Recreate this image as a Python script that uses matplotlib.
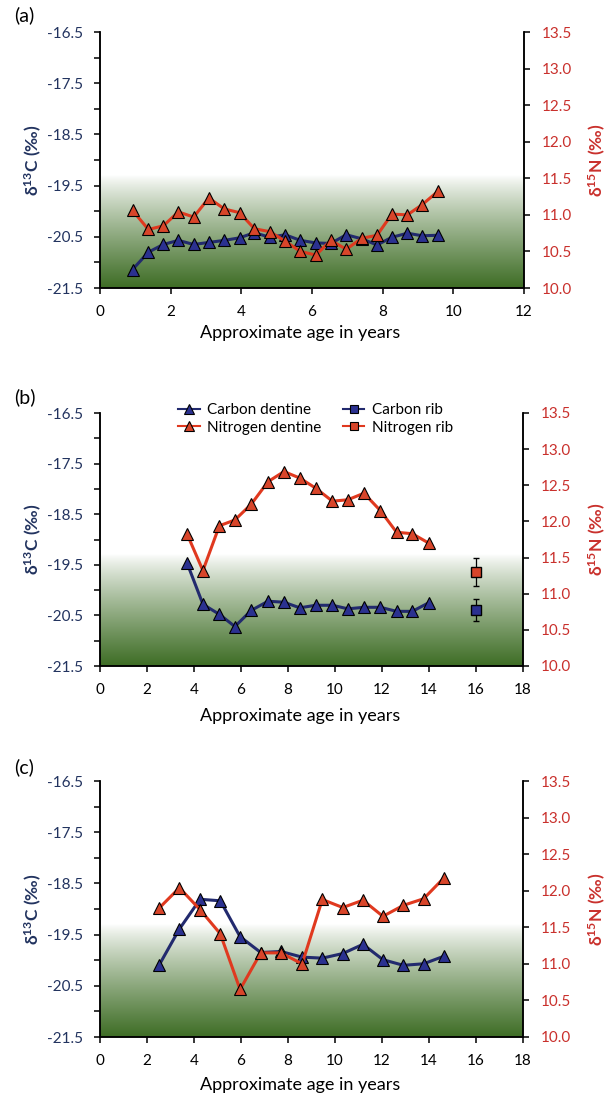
import numpy as np
import matplotlib
matplotlib.use("Agg")
import matplotlib.pyplot as plt
from matplotlib.lines import Line2D
from matplotlib.colors import to_rgb

plt.rcParams['font.family'] = ['Lato', 'DejaVu Sans']
plt.rcParams['mathtext.fontset'] = 'custom'
plt.rcParams['mathtext.rm'] = 'Lato'
plt.rcParams['mathtext.bf'] = 'Lato:bold'
plt.rcParams['mathtext.default'] = 'bf'

# ---------------- data ----------------
# Panel (a)
age_a = [0.92, 1.37, 1.79, 2.22, 2.65, 3.08, 3.52, 3.95, 4.37, 4.81, 5.24,
         5.67, 6.11, 6.53, 6.97, 7.41, 7.84, 8.26, 8.70, 9.12, 9.56]
carbon_a = [-21.14, -20.80, -20.65, -20.57, -20.65, -20.61, -20.57, -20.52,
            -20.42, -20.51, -20.46, -20.57, -20.62, -20.63, -20.46, -20.54,
            -20.66, -20.51, -20.43, -20.48, -20.47]
nitrogen_a = [11.06, 10.80, 10.85, 11.04, 10.97, 11.23, 11.08, 11.03, 10.81,
              10.77, 10.64, 10.50, 10.45, 10.65, 10.53, 10.68, 10.72, 11.01,
              11.00, 11.14, 11.32]

# Panel (b)
age_b = [3.70, 4.38, 5.08, 5.74, 6.44, 7.15, 7.83, 8.50, 9.18, 9.89, 10.55,
         11.23, 11.93, 12.62, 13.29, 13.99]
carbon_b = [-19.46, -20.28, -20.48, -20.72, -20.40, -20.22, -20.24, -20.35,
            -20.30, -20.30, -20.37, -20.34, -20.34, -20.42, -20.42, -20.25]
nitrogen_b = [11.83, 11.32, 11.94, 12.02, 12.24, 12.55, 12.69, 12.60, 12.46,
              12.28, 12.30, 12.39, 12.15, 11.85, 11.83, 11.70]
rib_age = [16.0]
carbon_rib = [-20.40]
carbon_rib_err = [0.22]
nitrogen_rib = [11.30]
nitrogen_rib_err = [0.20]

# Panel (c)
age_c = [2.51, 3.38, 4.26, 5.12, 5.96, 6.84, 7.70, 8.60, 9.46, 10.33, 11.19,
         12.04, 12.91, 13.77, 14.65]
carbon_c = [-20.10, -19.39, -18.81, -18.84, -19.54, -19.85, -19.83, -19.94,
            -19.96, -19.87, -19.69, -19.99, -20.10, -20.07, -19.92]
nitrogen_c = [11.76, 12.04, 11.74, 11.41, 10.65, 11.15, 11.15, 11.00, 11.88,
              11.77, 11.87, 11.65, 11.80, 11.89, 12.18]

c_ticks = [-21.5, -20.5, -19.5, -18.5, -17.5, -16.5]
n_ticks = [10.0, 10.5, 11.0, 11.5, 12.0, 12.5, 13.0, 13.5]

# ---------------- style ----------------
C_LINE = '#222a6e'
C_FACE = '#2b3190'
N_LINE = '#e0391f'
N_FACE = '#d8452a'
C_TXT = '#22335f'
N_TXT = '#c9302c'
GREEN = '#3e6d25'

W, H = 609, 1097
fig = plt.figure(figsize=(W / 100, H / 100), dpi=100)

def px_axes(left, right, top, bottom):
    return [left / W, 1 - bottom / H, (right - left) / W, (bottom - top) / H]

panels = [
    dict(box=px_axes(100, 524, 32, 288), xmax=12, age=age_a, c=carbon_a,
         n=nitrogen_a, letter='(a)', letter_y=15, xlab_y=333),
    dict(box=px_axes(100, 523, 413, 666), xmax=18, age=age_b, c=carbon_b,
         n=nitrogen_b, letter='(b)', letter_y=397, xlab_y=716),
    dict(box=px_axes(100, 523, 781, 1037), xmax=18, age=age_c, c=carbon_c,
         n=nitrogen_c, letter='(c)', letter_y=767, xlab_y=1085),
]

# gradient image: white at top -> dark green at bottom
g = np.linspace(0, 1, 256) ** 0.85
white = np.array([1.0, 1.0, 1.0])
green = np.array(to_rgb(GREEN))
grad = white[None, :] * (1 - g[:, None]) + green[None, :] * g[:, None]
grad = grad[:, None, :]

mk = dict(marker='^', markersize=8.5, markeredgecolor='black', markeredgewidth=0.8)

for i, p in enumerate(panels):
    ax = fig.add_axes(p['box'])
    ax2 = ax.twinx()

    ax.imshow(grad, extent=[0, p['xmax'], -21.5, -19.3], aspect='auto',
              zorder=0, interpolation='bilinear')
    ax.set_xlim(0, p['xmax'])
    ax.set_ylim(-21.5, -16.5)
    ax2.set_ylim(10.0, 13.5)

    ax.plot(p['age'], p['c'], color=C_LINE, lw=2.2, markerfacecolor=C_FACE,
            zorder=3, **mk)
    ax2.plot(p['age'], p['n'], color=N_LINE, lw=2.2, markerfacecolor=N_FACE,
             zorder=3, **mk)

    if i == 1:
        ax.errorbar(rib_age, carbon_rib, yerr=carbon_rib_err, fmt='s',
                    color='black', ecolor='black', elinewidth=0.9, capsize=2.5,
                    markerfacecolor=C_FACE, markeredgecolor='black',
                    markersize=7, zorder=4)
        ax2.errorbar(rib_age, nitrogen_rib, yerr=nitrogen_rib_err, fmt='s',
                     color='black', ecolor='black', elinewidth=0.9, capsize=2.5,
                     markerfacecolor=N_FACE, markeredgecolor='black',
                     markersize=7, zorder=4)
        handles = [
            Line2D([], [], color=C_LINE, lw=1.5, marker='^', markersize=7,
                   markerfacecolor=C_FACE, markeredgecolor='black', markeredgewidth=0.8),
            Line2D([], [], color=N_LINE, lw=1.5, marker='^', markersize=7,
                   markerfacecolor=N_FACE, markeredgecolor='black', markeredgewidth=0.8),
            Line2D([], [], color=C_LINE, lw=1.5, marker='s', markersize=6,
                   markerfacecolor=C_FACE, markeredgecolor='black', markeredgewidth=0.8),
            Line2D([], [], color=N_LINE, lw=1.5, marker='s', markersize=6,
                   markerfacecolor=N_FACE, markeredgecolor='black', markeredgewidth=0.8),
        ]
        labels = ['Carbon dentine', 'Nitrogen dentine', 'Carbon rib', 'Nitrogen rib']
        ax2.legend(handles, labels, ncol=2, frameon=False, fontsize=11,
                   loc='upper center', bbox_to_anchor=(0.51, 1.08),
                   handlelength=1.4, handletextpad=0.5, columnspacing=1.4,
                   labelspacing=0.2, borderpad=0.2)

    # spines
    for a in (ax, ax2):
        a.spines['top'].set_visible(False)
        for s in ('left', 'right', 'bottom'):
            a.spines[s].set_color('black')
            a.spines[s].set_linewidth(1.1)

    ax.set_xticks(np.arange(0, p['xmax'] + 1, 2))
    ax.set_yticks(c_ticks)
    ax.set_yticks(np.arange(-21.0, -16.5, 1.0), minor=True)
    ax2.set_yticks(n_ticks)
    ax2.set_yticklabels([f'{v:.1f}' for v in n_ticks])
    ax.set_yticklabels([f'{v:.1f}' for v in c_ticks])

    ax.tick_params(axis='x', direction='out', length=4, width=1.1, pad=8,
                   labelsize=11, colors='black')
    ax.tick_params(axis='y', which='both', direction='out', length=4, width=1.1,
                   pad=8, labelsize=11, labelcolor=C_TXT, color='black')
    ax2.tick_params(axis='y', direction='out', length=4, width=1.1, pad=9,
                    labelsize=11, labelcolor=N_TXT, color='black')

    ycen_px = (1 - (p['box'][1] + p['box'][3] / 2)) * H
    fig.text(33 / W, 1 - ycen_px / H, 'δ$^{13}$C (‰)', rotation=90,
             ha='center', va='center', fontsize=12.5, fontweight='bold',
             color=C_TXT)
    fig.text(597 / W, 1 - ycen_px / H, 'δ$^{15}$N (‰)', rotation=90,
             ha='center', va='center', fontsize=12.5, fontweight='bold',
             color=N_TXT)
    fig.text(300 / W, 1 - p['xlab_y'] / H, 'Approximate age in years',
             ha='center', va='center', fontsize=13, color='black')
    fig.text(14 / W, 1 - p['letter_y'] / H, p['letter'], ha='left',
             va='center', fontsize=14, color='black')

fig.savefig('out.png', dpi=100)
